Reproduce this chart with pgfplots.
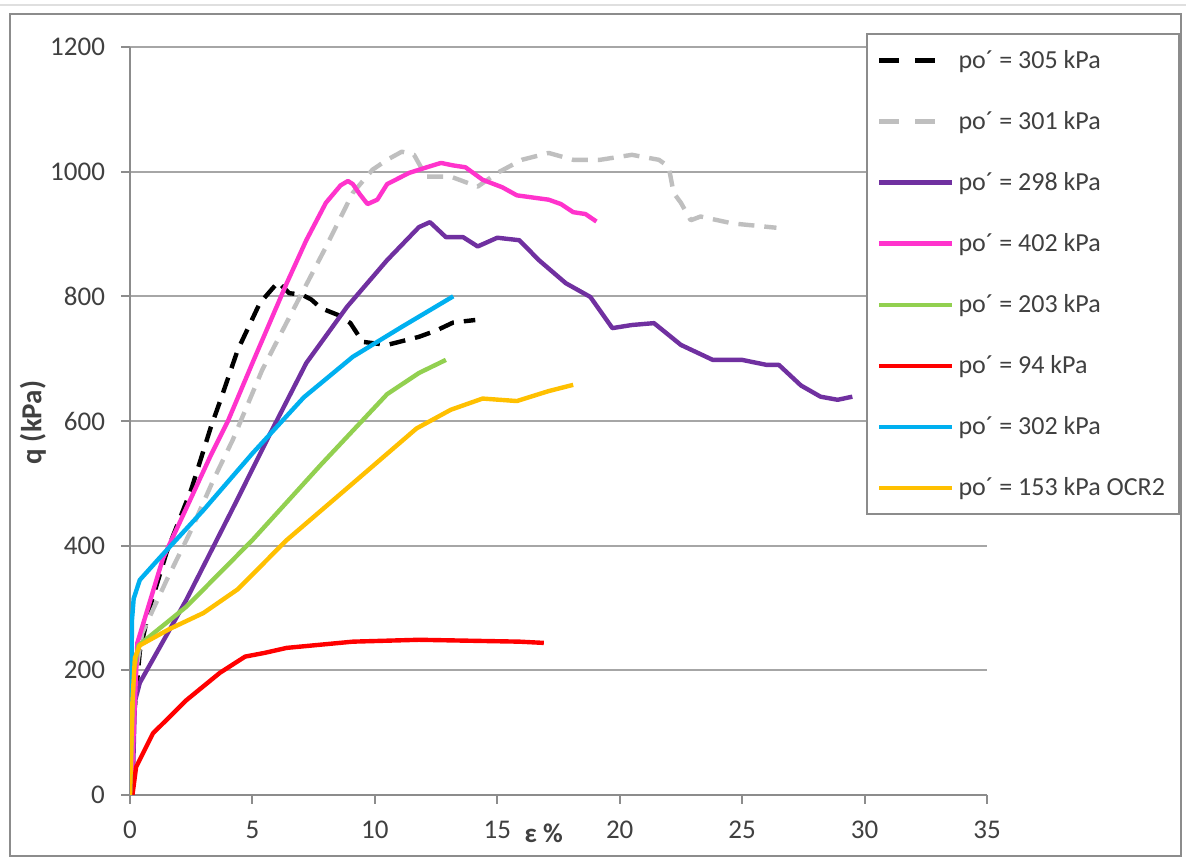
\documentclass[border=0pt]{standalone}
\usepackage{fontspec}
\setmainfont{Carlito}
\usepackage{pgfplots}
\pgfplotsset{compat=1.18}
\definecolor{cPurple}{HTML}{7030A0}
\definecolor{cPink}{HTML}{FF33CC}
\definecolor{cGreen}{HTML}{92D050}
\definecolor{cRed}{HTML}{FF0000}
\definecolor{cBlue}{HTML}{00B0F0}
\definecolor{cOrange}{HTML}{FFC000}
\definecolor{cGrayDash}{HTML}{BFBFBF}
\definecolor{axisgray}{HTML}{8C8C8C}
\definecolor{gridgray}{HTML}{A6A6A6}
\definecolor{txtgray}{HTML}{404040}
\pgfplotsset{
  solidlegend/.style={legend image code/.code={\draw[##1] (0pt,0pt) -- (36.5pt,0pt);}},
  dashlegend/.style={legend image code/.code={\draw[##1, dash pattern=on 10pt off 8pt] (0pt,0pt) -- (28pt,0pt);}},
}
\begin{document}
\begin{tikzpicture}
\useasboundingbox (0,0) rectangle (593pt,430pt);
\fill[white] (0,0) rectangle (593pt,430pt);
\draw[gray!25, line width=1.2pt] (0pt,427.5pt) -- (593pt,427.5pt);
\draw[axisgray, line width=1pt] (5pt,2pt) rectangle (590.5pt,423pt);
\begin{axis}[
  at={(65pt,32.5pt)}, anchor=south west,
  scale only axis, width=428.5pt, height=374pt,
  xmin=0, xmax=35, ymin=0, ymax=1200,
  xtick={0,5,...,35}, ytick={0,200,...,1200},
  axis x line*=bottom, axis y line*=left,
  axis line style={-, draw=axisgray, line width=1pt},
  ymajorgrids, grid style={gridgray, line width=1pt},
  tick style={axisgray, line width=1pt},
  tick align=outside, major tick length=4.5pt,
  /pgf/number format/assume math mode=true,
  /pgf/number format/1000 sep={},
  ticklabel style={font=\fontsize{13.5}{16}\selectfont, text=txtgray},
  xticklabel shift=5pt,
  yticklabel shift=4.5pt,
  legend style={draw=axisgray, line width=1pt, at={(1.2252,1.0187)}, anchor=north east,
    font=\fontsize{13}{15}\selectfont, text=txtgray, row sep=16pt,
    inner xsep=5pt, inner ysep=6pt, cells={anchor=west}},
  solidlegend,
  every axis plot/.append style={line width=2.2pt, line join=round},
]
% po' = 305 kPa (black dashed)
\addplot[black, dash pattern=on 8pt off 5pt, dashlegend]
coordinates {(0,0) (0.15,120) (0.4,230) (0.8,300) (1.5,390) (2.5,490) (3.3,590) (3.7,634)
 (4.4,714) (5.3,789) (6.05,823) (6.5,805) (7.0,803) (7.4,795) (7.8,781) (8.5,770) (9.0,757)
 (9.5,727) (10.5,722) (11.8,735) (12.5,745) (13.2,758) (14.1,762)};
\addlegendentry{po´ = 305 kPa}
% po' = 301 kPa (gray dashed)
\addplot[cGrayDash, dash pattern=on 8pt off 5pt, dashlegend]
coordinates {(0,0) (0.1,100) (0.25,200) (0.5,260) (1.5,345) (2.5,425) (3.4,505) (4.2,570)
 (5.4,682) (6.66,778) (8.0,879) (9.1,966) (9.9,1003) (10.5,1019) (11.1,1032) (11.6,1027)
 (12.1,992) (13.1,992) (14.2,976) (15.0,998) (16.0,1019) (17.1,1030) (18.1,1019) (19.2,1019)
 (20.5,1027) (21.6,1019) (22.0,1008) (22.2,966) (22.5,950) (22.9,922) (23.3,928) (24.6,917)
 (26.4,910)};
\addlegendentry{po´ = 301 kPa}
% po' = 298 kPa (purple)
\addplot[cPurple] coordinates {(0.1,0) (0.2,150) (0.4,180) (2.3,313) (4.37,473) (5.7,578)
 (7.2,693) (8.86,783) (10.5,858) (11.8,911) (12.25,919) (12.9,895) (13.6,895) (14.2,880)
 (15,894) (15.9,890) (16.7,858) (17.8,821) (18.8,799) (19.7,749) (20.5,754) (21.4,757)
 (22.5,722) (23.8,698) (25,698) (26,690) (26.5,690) (27.4,657) (28.2,639) (28.9,634) (29.5,639)};
\addlegendentry{po´ = 298 kPa}
% po' = 402 kPa (pink)
\addplot[cPink] coordinates {(0.05,0) (0.2,150) (0.3,244) (1.35,380) (2.3,460) (3.3,545)
 (4.0,600) (5.0,693) (6.4,821) (7.2,890) (8.0,950) (8.6,978) (8.9,985) (9.1,980) (9.4,963)
 (9.7,948) (10.1,955) (10.5,980) (11.4,998) (12.2,1008) (12.7,1014) (13.2,1010) (13.7,1007)
 (14.4,987) (15.2,975) (15.8,962) (17.1,955) (17.6,948) (18.1,935) (18.6,932) (19.05,920)};
\addlegendentry{po´ = 402 kPa}
% po' = 203 kPa (green)
\addplot[cGreen] coordinates {(0,0) (0.15,200) (0.35,240) (2.3,302) (5,409) (7.8,530)
 (10.5,643) (11.8,677) (12.9,698)};
\addlegendentry{po´ = 203 kPa}
% po' = 94 kPa (red)
\addplot[cRed] coordinates {(0.1,0) (0.25,45) (0.94,99) (2.3,152) (3.67,196) (4.7,222)
 (5.5,228) (6.4,236) (9.1,246) (11.8,249) (15.9,246) (16.9,244)};
\addlegendentry{po´ = 94 kPa}
% po' = 302 kPa (blue)
\addplot[cBlue] coordinates {(0,0) (0.05,150) (0.08,280) (0.15,315) (0.4,345) (1.2,380)
 (3,457) (5,548) (7.1,638) (9.1,703) (11.1,751) (13.2,800)};
\addlegendentry{po´ = 302 kPa}
% po' = 153 kPa OCR2 (orange)
\addplot[cOrange] coordinates {(0,0) (0.1,150) (0.2,220) (0.4,240) (1.6,266) (3,292)
 (4.4,330) (6.4,409) (9.1,500) (11.7,588) (13.1,618) (14.4,636) (15.8,632) (17.1,648) (18.1,658)};
\addlegendentry{po´ = 153 kPa OCR2}
\coordinate (ylab) at (rel axis cs:0,0.498);
\coordinate (xlab) at (axis cs:16.9,0);
\end{axis}
\node[font=\bfseries\fontsize{14.5}{16}\selectfont, text=txtgray, rotate=90]
  at ([xshift=-48.5pt]ylab) {q (kPa)};
\node[font=\bfseries\fontsize{13.5}{16}\selectfont, text=txtgray]
  at ([yshift=-19pt]xlab) {ε \%};
\end{tikzpicture}
\end{document}
